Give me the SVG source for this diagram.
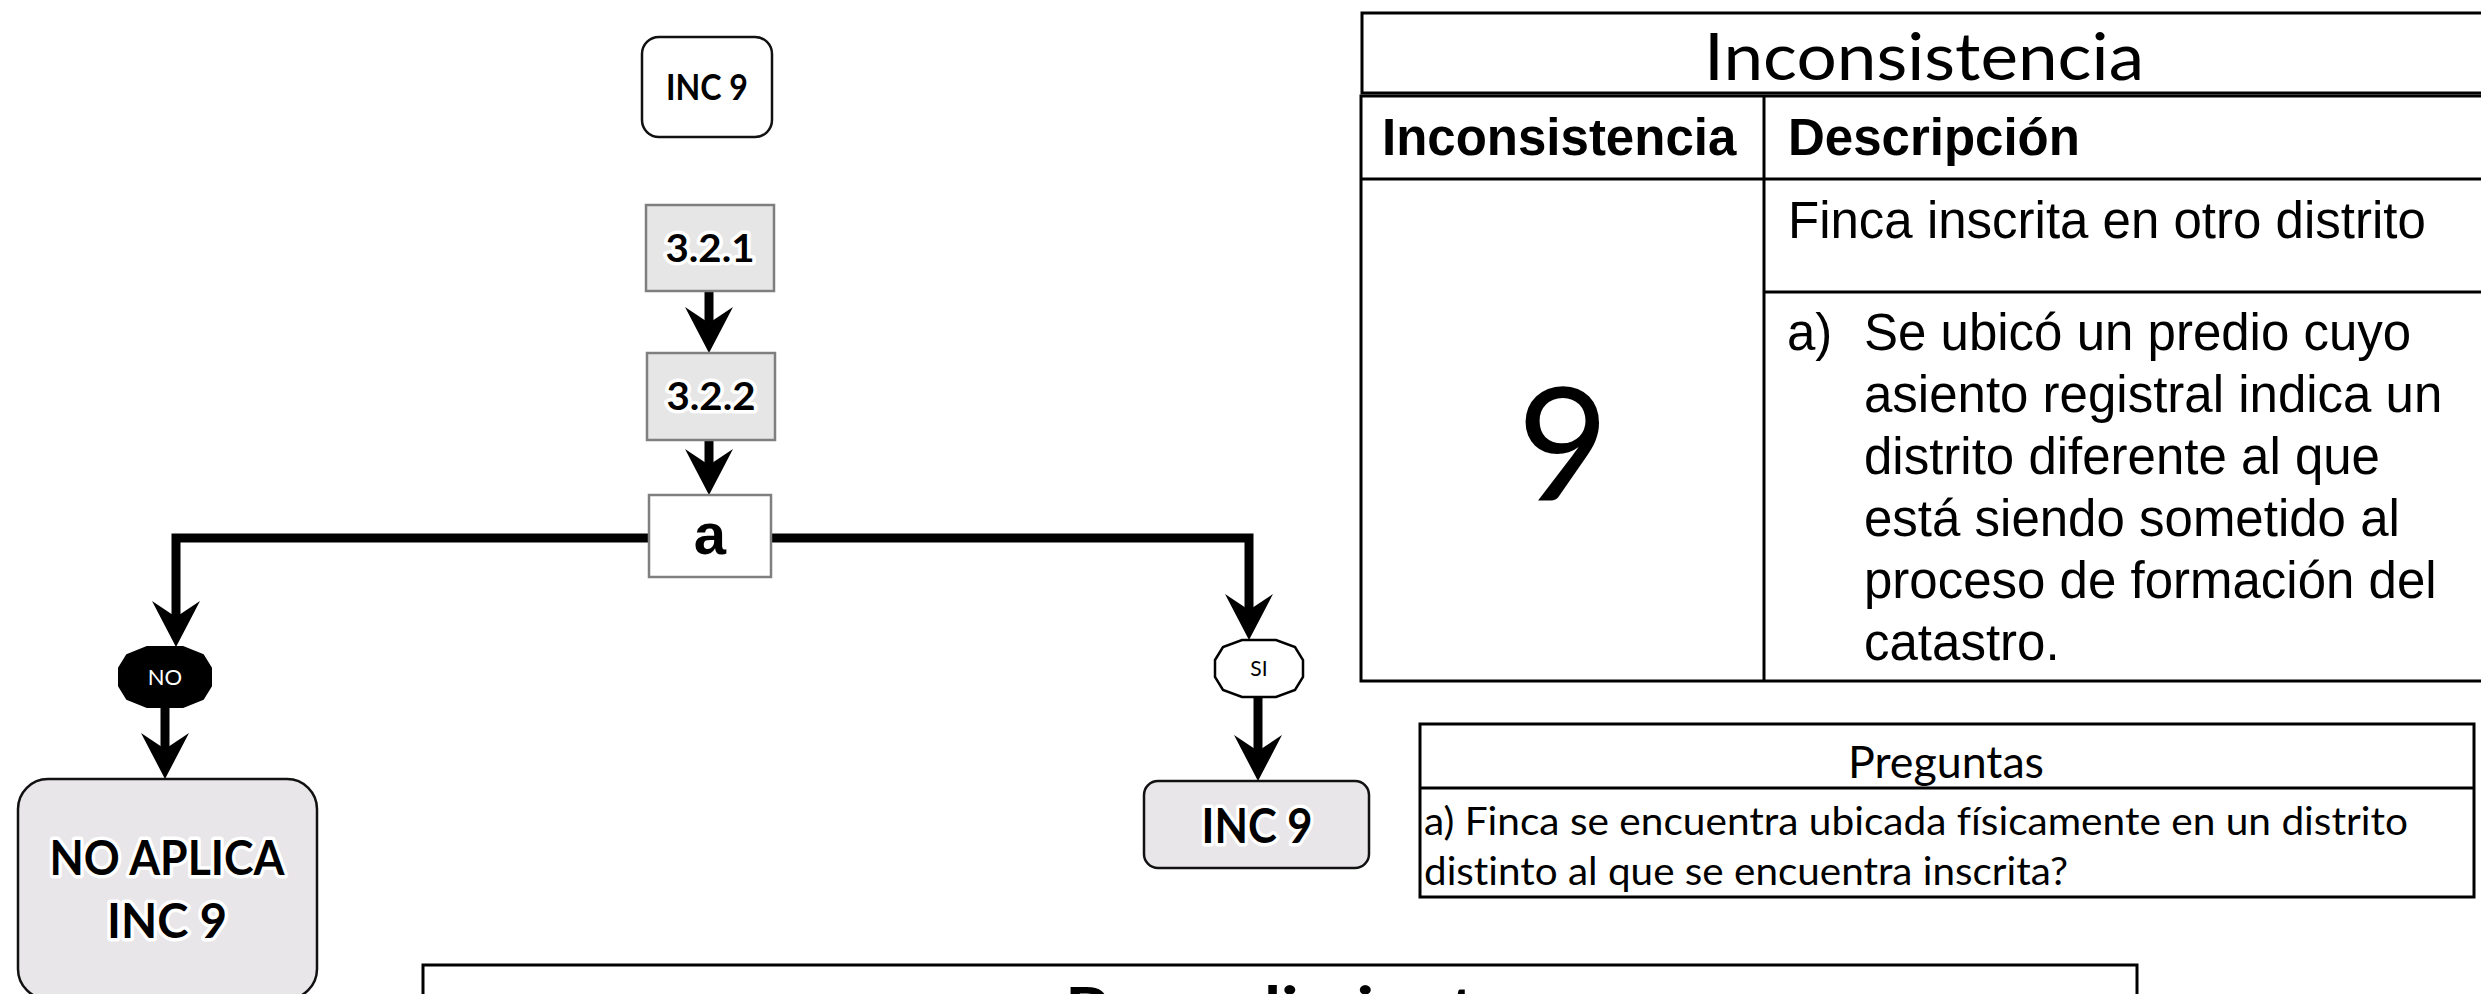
<svg xmlns="http://www.w3.org/2000/svg" width="2481" height="994" viewBox="0 0 2481 994">
<style>
.cal{font-family:Lato,"Noto Sans","Liberation Sans",sans-serif;font-variant-ligatures:none;}
.ari{font-family:"Liberation Sans",Arial,sans-serif;}
.b{font-weight:bold;}
.glow{stroke:#ffffff;stroke-width:7;stroke-linejoin:round;paint-order:stroke;}
.proc{fill:#e7e6e6;stroke:#7f7f7f;stroke-width:2.5;}
.term{fill:#e8e6e8;stroke:#111111;stroke-width:2.5;}
.tbl{fill:none;stroke:#000000;stroke-width:3;}
.conn{fill:none;stroke:#000000;stroke-width:9;stroke-linejoin:miter;marker-end:url(#arr);}
</style>
<defs>
<marker id="arr" markerUnits="userSpaceOnUse" viewBox="0 0 46 48" markerWidth="46" markerHeight="48" refX="16" refY="24" orient="auto">
<path d="M46,24 L0,0 L16,24 L0,48 Z" fill="#000000"/>
</marker>
</defs>
<rect width="2481" height="994" fill="#ffffff"/>

<g id="connectors">
<path class="conn" d="M709,291 V323"/>
<path class="conn" d="M709,440 V465"/>
<path class="conn" d="M649,538 H176 V617"/>
<path class="conn" d="M771,538 H1249 V610"/>
<path class="conn" d="M165,707 V749"/>
<path class="conn" d="M1258,697 V751"/>
</g>

<g id="start-inc9">
<rect x="642" y="37" width="130" height="100" rx="17" fill="#ffffff" stroke="#111111" stroke-width="2.5"/>
<text class="cal b" x="707" y="100" font-size="36" text-anchor="middle" textLength="82" lengthAdjust="spacingAndGlyphs">INC 9</text>
</g>

<g id="step-321">
<rect class="proc" x="646" y="205" width="128" height="86"/>
<text class="cal b glow" x="710" y="262" font-size="38" text-anchor="middle" textLength="89" lengthAdjust="spacingAndGlyphs">3.2.1</text>
</g>

<g id="step-322">
<rect class="proc" x="647" y="353" width="128" height="87"/>
<text class="cal b glow" x="711" y="410" font-size="38" text-anchor="middle" textLength="89" lengthAdjust="spacingAndGlyphs">3.2.2</text>
</g>

<g id="question-a">
<rect x="649" y="495" width="122" height="82" fill="#ffffff" stroke="#7f7f7f" stroke-width="2.5"/>
<text class="ari b" x="710" y="554" font-size="58" text-anchor="middle">a</text>
</g>

<g id="no-label">
<polygon points="119,668 127,655 147,647 183,647 203,655 211,668 211,686 203,699 183,707 147,707 127,699 119,686" fill="#000000" stroke="#000000" stroke-width="2"/>
<text class="cal" x="165" y="685" font-size="22" fill="#ffffff" text-anchor="middle">NO</text>
</g>

<g id="si-label">
<polygon points="1215,660 1223,647 1242,640 1276,640 1295,647 1303,660 1303,677 1295,690 1276,697 1242,697 1223,690 1215,677" fill="#ffffff" stroke="#000000" stroke-width="2.5"/>
<text class="cal" x="1259" y="676" font-size="21" text-anchor="middle">SI</text>
</g>

<g id="no-aplica">
<rect class="term" x="18" y="779" width="299" height="220" rx="30"/>
<text class="cal b glow" x="167" y="875" font-size="47" text-anchor="middle" textLength="235" lengthAdjust="spacingAndGlyphs">NO APLICA</text>
<text class="cal b glow" x="167" y="938" font-size="47" text-anchor="middle" textLength="120" lengthAdjust="spacingAndGlyphs">INC 9</text>
</g>

<g id="result-inc9">
<rect class="term" x="1144" y="781" width="225" height="87" rx="14"/>
<text class="cal b glow" x="1257" y="843" font-size="47" text-anchor="middle" textLength="111" lengthAdjust="spacingAndGlyphs">INC 9</text>
</g>

<g id="tabla-inconsistencia">
<rect class="tbl" x="1362" y="13" width="1130" height="80"/>
<text class="cal" x="1924" y="80" font-size="66" text-anchor="middle" textLength="440" lengthAdjust="spacingAndGlyphs">Inconsistencia</text>
<rect class="tbl" x="1361" y="96" width="1131" height="585"/>
<line class="tbl" x1="1361" y1="179" x2="2492" y2="179"/>
<line class="tbl" x1="1764" y1="96" x2="1764" y2="681"/>
<line class="tbl" x1="1764" y1="292" x2="2492" y2="292"/>
<text class="ari b" x="1382" y="155" font-size="51">Inconsistencia</text>
<text class="ari b" x="1788" y="155" font-size="51">Descripción</text>
<text class="ari" x="1788" y="238" font-size="51">Finca inscrita en otro distrito</text>
<text class="cal" x="1563" y="500" font-size="158" text-anchor="middle">9</text>
<text class="ari" x="1787" y="350" font-size="51">a)</text>
<text class="ari" font-size="51">
<tspan x="1864" y="350">Se ubicó un predio cuyo</tspan>
<tspan x="1864" y="412">asiento registral indica un</tspan>
<tspan x="1864" y="474">distrito diferente al que</tspan>
<tspan x="1864" y="536">está siendo sometido al</tspan>
<tspan x="1864" y="598">proceso de formación del</tspan>
<tspan x="1864" y="660">catastro.</tspan>
</text>
</g>

<g id="tabla-preguntas">
<rect class="tbl" x="1420" y="724" width="1054" height="173"/>
<line class="tbl" x1="1420" y1="788" x2="2474" y2="788"/>
<text class="cal" x="1946" y="778" font-size="44" text-anchor="middle" textLength="196" lengthAdjust="spacingAndGlyphs">Preguntas</text>
<text class="cal" x="1424" y="835" font-size="38" textLength="984" lengthAdjust="spacingAndGlyphs">a) Finca se encuentra ubicada físicamente en un distrito</text>
<text class="cal" x="1424" y="885" font-size="38" textLength="644" lengthAdjust="spacingAndGlyphs">distinto al que se encuentra inscrita?</text>
</g>

<g id="procedimiento">
<rect class="tbl" x="423" y="965" width="1714" height="120"/>
<text class="cal b" x="1065" y="1031" font-size="61" textLength="450" lengthAdjust="spacingAndGlyphs">Procedimiento</text>
</g>
</svg>
